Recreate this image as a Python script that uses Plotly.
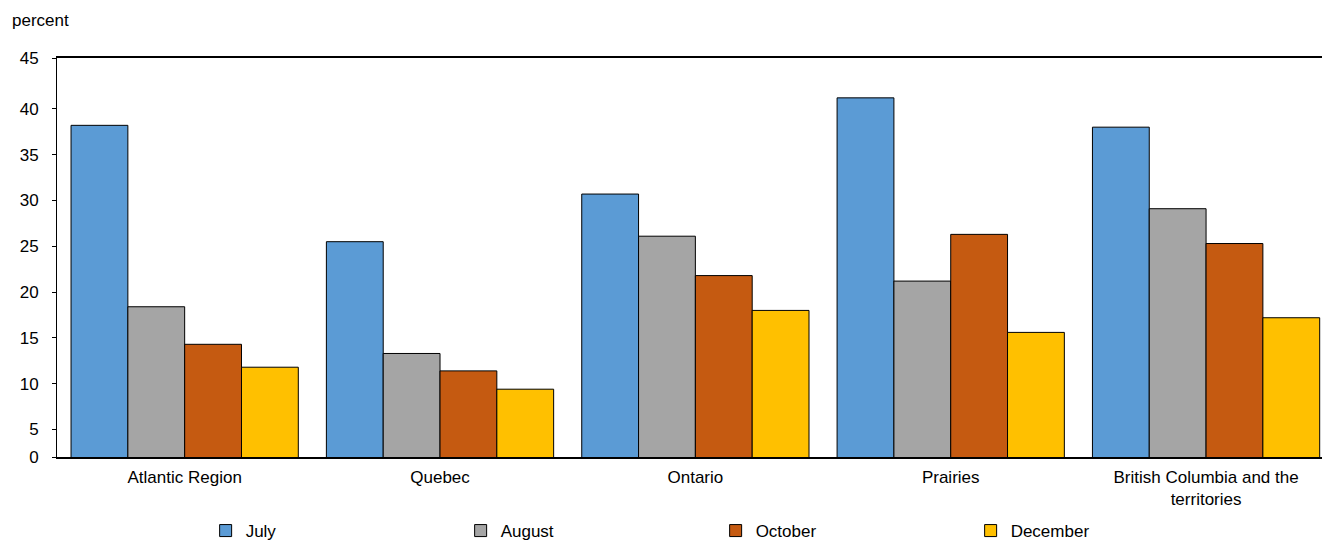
import plotly.graph_objects as go

# Regions (x categories) and monthly shares, in percent
regions = ["Atlantic Region", "Quebec", "Ontario", "Prairies",
           "British Columbia and the<br>territories"]
months = ["July", "August", "October", "December"]
july = [38.2, 25.5, 30.7, 41.2, 38.0]
august = [18.4, 13.3, 26.1, 21.2, 29.1]
october = [14.3, 11.4, 21.8, 26.3, 25.3]
december = [11.8, 9.4, 18.0, 15.6, 17.2]

# Y tick labels and where they sit on the value axis
ytick_text = ["0", "5", "10", "15", "20", "25", "30", "35", "40", "45"]
ytick_vals = [2.0, 5, 10, 15, 20, 25, 30, 35, 40, 45.55]

colors = ["#5B9BD5", "#A5A5A5", "#C55A11", "#FFC000"]
series = [july, august, october, december]

FONT = "Liberation Sans, Arial, sans-serif"
FS = 17

fig = go.Figure()
for name, vals, col in zip(months, series, colors):
    fig.add_trace(go.Bar(
        x=list(range(len(regions))), y=vals, name=name,
        marker=dict(color=col, line=dict(color="#000000", width=1)),
    ))

fig.update_layout(
    width=1322, height=542,
    margin=dict(l=57, r=0, t=58, b=85, autoexpand=False),
    paper_bgcolor="white", plot_bgcolor="white",
    barmode="group", bargap=0.11, bargroupgap=0,
    font=dict(family=FONT, size=FS, color="#000000"),
    showlegend=True,
    legend=dict(
        orientation="h", x=0.1175, xanchor="left", y=-0.1855, yanchor="middle",
        entrywidth=210, entrywidthmode="pixels",
        font=dict(family=FONT, size=FS, color="#000000"),
        itemclick=False, tracegroupgap=0,
    ),
    xaxis=dict(
        tickmode="array", tickvals=list(range(len(regions))), ticktext=regions,
        range=[-0.5, 4.454], showgrid=False, zeroline=False,
        showline=True, linecolor="#000000", linewidth=1.5, mirror=True,
        ticks="", tickfont=dict(family=FONT, size=FS), ticklabelstandoff=4,
    ),
    yaxis=dict(
        range=[2.0, 45.55], tickmode="array", tickvals=ytick_vals,
        ticktext=ytick_text, showgrid=False, zeroline=False,
        showline=True, linecolor="#000000", linewidth=1,
        ticks="outside", ticklen=4, tickcolor="#000000", tickwidth=1,
        tickfont=dict(family=FONT, size=FS), ticklabelstandoff=10,
    ),
    annotations=[dict(
        text="percent", xref="paper", yref="paper", x=-0.037, y=1.095,
        xanchor="left", yanchor="middle", showarrow=False,
        font=dict(family=FONT, size=FS, color="#000000"),
    )],
)

fig.write_html("out.html")
